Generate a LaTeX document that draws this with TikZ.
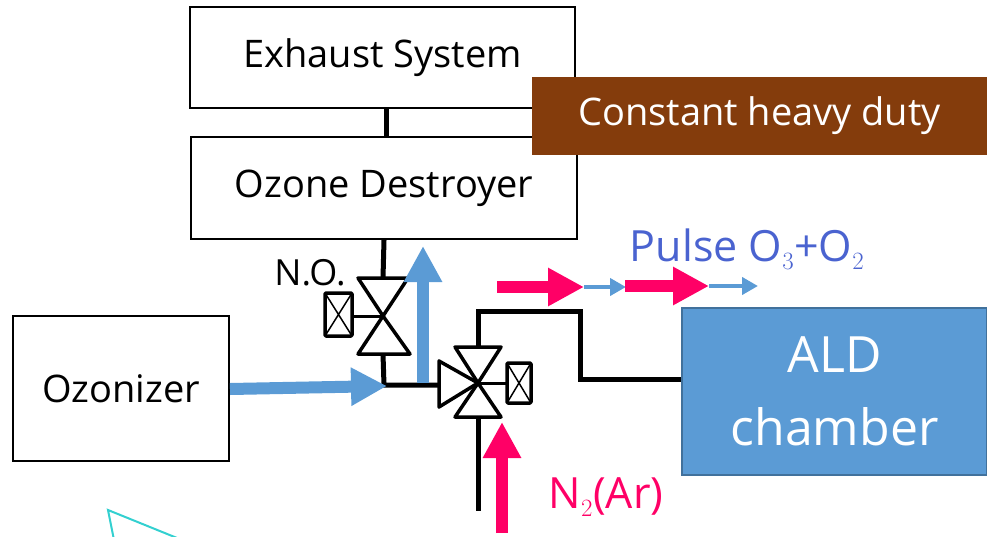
\documentclass[tikz,border=0pt]{standalone}
\usepackage{fontspec}
\setmainfont{Open Sans}
\usetikzlibrary{arrows.meta}

\definecolor{aldblue}{HTML}{5B9BD5}
\definecolor{aldedge}{HTML}{41719C}
\definecolor{dutybrown}{HTML}{843C0C}
\definecolor{pulsepink}{HTML}{FF0066}
\definecolor{pulseblue}{HTML}{4A63D0}
\definecolor{markteal}{HTML}{33D0D0}

\tikzset{
  unitbox/.style={draw=black,line width=2pt,fill=white,inner sep=0pt,font=\fontsize{38}{38}\selectfont},
  pipe/.style={line width=5pt,color=black},
  valve/.style={line width=3.5pt,color=black,fill=white,line join=round},
  bigflow/.style={line width=12pt,-{Triangle[length=36pt,width=36pt]}},
  smallflow/.style={line width=4pt,color=aldblue,-{Triangle[length=16pt,width=17pt]}},
}

\begin{document}
\begin{tikzpicture}[x=1pt,y=-1pt]
\useasboundingbox (0,0) rectangle (987,536);
\clip (0,0) rectangle (987,536);

\node [unitbox,minimum width=385pt,minimum height=101pt] (exhaust) at (382.5,57.5) {Exhaust System};
\node [unitbox,minimum width=386pt,minimum height=102pt] (destroyer) at (384,188) {Ozone Destroyer};
\node [unitbox,minimum width=216pt,minimum height=145pt] (ozonizer) at (121,388.5) {Ozonizer};

\node [draw=aldedge,line width=2pt,fill=aldblue,text=white,minimum width=305pt,minimum height=167pt,align=center,
  font=\fontsize{50}{73}\selectfont] (ald) at (834.5,391.5) {ALD\\chamber};
\node [fill=dutybrown,text=white,minimum width=455pt,minimum height=78pt,inner sep=0pt,
  font=\fontsize{38}{38}\selectfont] (duty) at (759.5,116) {Constant heavy duty};

\node [draw=none,text=pulseblue,font=\fontsize{43}{43}\selectfont] (pulse) at (747,249) {Pulse O$_3$+O$_2$};
\node [draw=none,text=pulsepink,font=\fontsize{43}{43}\selectfont] (carrier) at (606,497) {N$_2$(Ar)};
\node [draw=none,font=\fontsize{36}{36}\selectfont] (normopen) at (310,273) {N.O.};

% valve points
\coordinate (upper) at (383,316);
\coordinate (upperT) at (383,278);
\coordinate (upperB) at (383,354);
\coordinate (lower) at (478,383);
\coordinate (lowerT) at (478,347);
\coordinate (lowerB) at (478,417);
\coordinate (lowerL) at (439,385);
\coordinate (inlet) at (478,511);
\coordinate (tee) at (384,385);

% pipes
\draw[pipe] (exhaust.south -| 386,0) -- (destroyer.north -| 386,0);
\draw[pipe] (destroyer.south -| 384,0) -- (upperT);
\draw[pipe] (upperB) -- (tee) -- (lowerL);
\draw[pipe] (lowerT) |- (580,311) |- (ald.west |- 0,379);
\draw[pipe] (lowerB) -- (inlet);

% valves
\draw[valve] (358,278) -- (408,278) -- (upper) -- cycle;
\draw[valve] (358,354) -- (410,354) -- (upper) -- cycle;
\draw[valve] (455,347) -- (501,347) -- (lower) -- cycle;
\draw[valve] (455,417) -- (501,417) -- (lower) -- cycle;
\draw[valve] (439,361) -- (439,407) -- (lower) -- cycle;

% actuators
\draw[line width=3pt] (352,316) -- (upper);
\draw[line width=3pt] (507,383) -- (lower);
\draw[valve,rounded corners=1pt] (325,293) rectangle (352,336);
\draw[line width=1.5pt] (325,293) -- (352,336) (352,293) -- (325,336);
\draw[valve,rounded corners=1pt] (507,363) rectangle (531,403);
\draw[line width=1.5pt] (507,363) -- (531,403) (531,363) -- (507,403);

% flows
\draw[bigflow,color=aldblue] (ozonizer.east |- 0,389) -- (387,386);
\draw[bigflow,color=aldblue] (423,383) -- (423,246);
\draw[smallflow] (584,287) -- (626,287);
\draw[smallflow] (709,286) -- (758,286);
\draw[bigflow,color=pulsepink] (497,287) -- (584,287);
\draw[bigflow,color=pulsepink] (625,286) -- (709,286);
\draw[bigflow,color=pulsepink] (502,533) -- (502,422);

\draw[line width=2pt,color=markteal] (114,540) -- (108,510) -- (182,540); % cut by the page

\end{tikzpicture}
\end{document}
